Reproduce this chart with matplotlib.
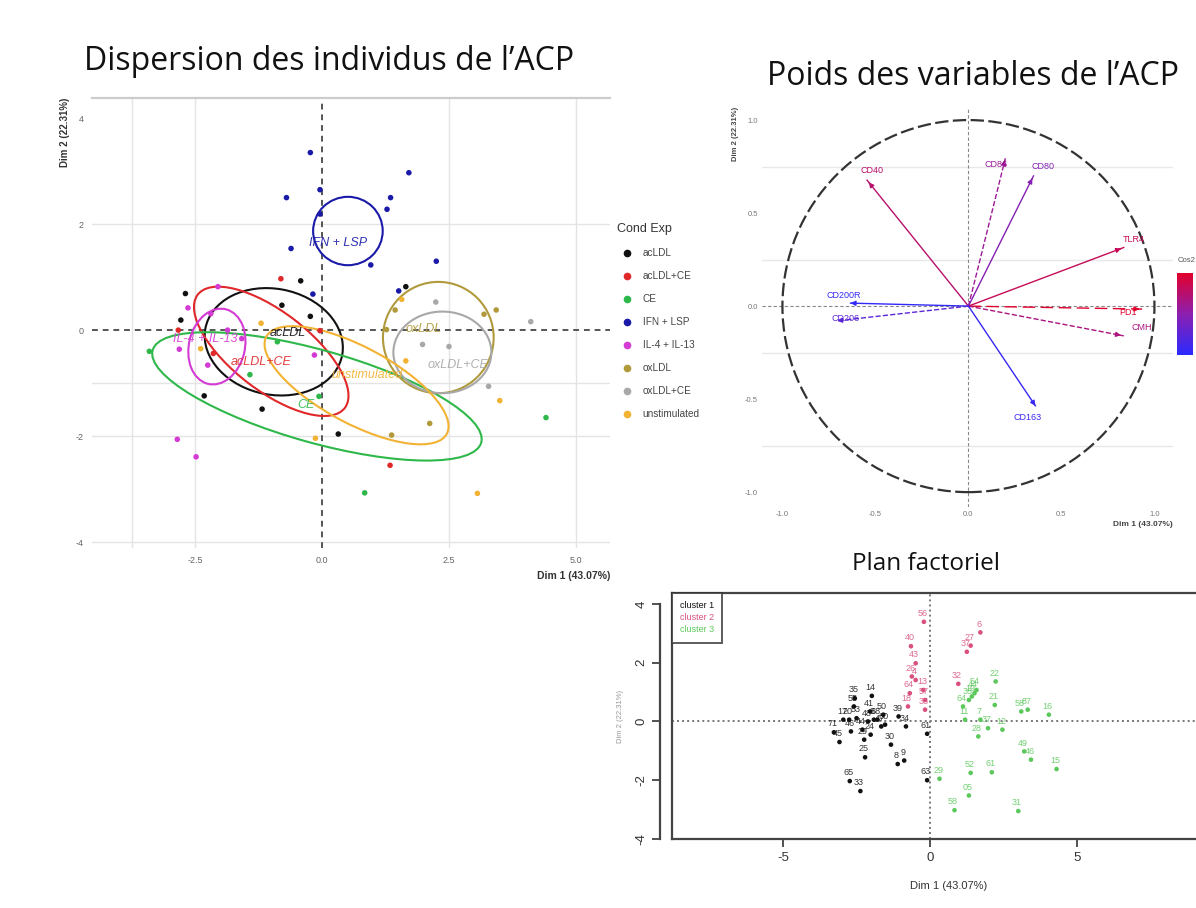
import numpy as np
import matplotlib
matplotlib.use("Agg")
import matplotlib.pyplot as plt
from matplotlib.patches import Ellipse, Circle
from matplotlib.colors import LinearSegmentedColormap, Normalize
from matplotlib.cm import ScalarMappable
from matplotlib.lines import Line2D

plt.rcParams['font.family'] = ['Liberation Sans', 'DejaVu Sans']
plt.rcParams['axes.unicode_minus'] = False

# ---------------------------------------------
# Données : individus de l'ACP par condition
# ---------------------------------------------
conditions = ["acLDL", "acLDL+CE", "CE", "IFN + LSP", "IL-4 + IL-13",
              "oxLDL", "oxLDL+CE", "unstimulated"]
cond_colors = ["#111111", "#e0282a", "#2fb84a", "#1a1aa8", "#d43ad4",
               "#b09a3c", "#a8a8a8", "#f2b233"]

ind_x = {
    "acLDL": [-2.69, -2.78, -0.42, -0.23, 1.65, -2.32, -1.18, 0.32, -0.79],
    "acLDL+CE": [-0.81, -2.83, -2.14, -0.04, 1.34],
    "CE": [-3.40, -1.42, -0.06, -0.88, 4.41, 0.84],
    "IFN + LSP": [-0.23, -0.04, -0.70, 1.71, 1.35, 1.28, -0.04, -0.61, 0.96, 2.25, 1.51, -0.18],
    "IL-4 + IL-13": [-2.05, -2.64, -2.19, -1.86, -1.58, -2.81, -2.25, -0.15, -2.85, -2.48],
    "oxLDL": [3.43, 3.19, 1.44, 2.12, 1.37, 1.27],
    "oxLDL+CE": [2.24, 4.11, 1.98, 2.50, 3.28],
    "unstimulated": [-1.20, 1.57, 1.65, 3.50, -0.13, 3.06, -2.39],
}
ind_y = {
    "acLDL": [0.69, 0.19, 0.93, 0.26, 0.82, -1.24, -1.49, -1.96, 0.47],
    "acLDL+CE": [0.97, 0.00, -0.44, -0.01, -2.55],
    "CE": [-0.40, -0.84, -1.25, -0.22, -1.65, -3.07],
    "IFN + LSP": [3.35, 2.65, 2.50, 2.97, 2.50, 2.28, 2.19, 1.54, 1.23, 1.30, 0.74, 0.68],
    "IL-4 + IL-13": [0.82, 0.42, 0.31, 0.00, -0.16, -0.36, -0.66, -0.47, -2.06, -2.39],
    "oxLDL": [0.38, 0.30, 0.38, -1.76, -1.98, 0.01],
    "oxLDL+CE": [0.53, 0.16, -0.27, -0.31, -1.06],
    "unstimulated": [0.13, 0.58, -0.58, -1.33, -2.04, -3.08, -0.35],
}

# ellipses de confiance : centre, largeur, hauteur, angle
ell_center = {
    "acLDL": (-0.95, -0.22), "acLDL+CE": (-1.00, -0.40), "CE": (-0.10, -1.25),
    "IFN + LSP": (0.51, 1.87), "IL-4 + IL-13": (-2.07, -0.31),
    "oxLDL": (2.29, -0.14), "oxLDL+CE": (2.37, -0.42), "unstimulated": (0.68, -1.04),
}
ell_width = {"acLDL": 2.74, "acLDL+CE": 3.6, "CE": 6.7, "IFN + LSP": 1.37,
             "IL-4 + IL-13": 1.45, "oxLDL": 2.18, "oxLDL+CE": 1.93, "unstimulated": 4.0}
ell_height = {"acLDL": 2.0, "acLDL+CE": 1.5, "CE": 1.75, "IFN + LSP": 1.29,
              "IL-4 + IL-13": 1.1, "oxLDL": 2.1, "oxLDL+CE": 1.54, "unstimulated": 1.45}
ell_angle = {"acLDL": -10, "acLDL+CE": -36, "CE": -15, "IFN + LSP": 0,
             "IL-4 + IL-13": 75, "oxLDL": 0, "oxLDL+CE": 0, "unstimulated": -27}
# position des étiquettes de groupe
lab_pos = {
    "acLDL": (-0.68, -0.05), "acLDL+CE": (-1.2, -0.6), "CE": (-0.32, -1.42),
    "IFN + LSP": (0.32, 1.64), "IL-4 + IL-13": (-2.29, -0.16),
    "oxLDL": (2.0, 0.03), "oxLDL+CE": (2.67, -0.66), "unstimulated": (0.88, -0.85),
}

# ---------------------------------------------
# Données : cercle des corrélations
# ---------------------------------------------
var_names = ["CD40", "CD86", "CD80", "TLR4", "PD1", "CMH", "CD200R", "CD206", "CD163"]
var_x = [-0.545, 0.20, 0.35, 0.835, 0.934, 0.835, -0.634, -0.706, 0.36]
var_y = [0.677, 0.80, 0.70, 0.315, -0.016, -0.16, 0.016, -0.079, -0.536]
var_ls = ["-", "--", "-", "-", (0, (9, 4)), "--", "-", "--", "-"]
var_lab_x = [-0.52, 0.15, 0.40, 0.89, 0.86, 0.93, -0.67, -0.66, 0.32]
var_lab_y = [0.73, 0.76, 0.75, 0.36, -0.034, -0.115, 0.056, -0.066, -0.60]

# ---------------------------------------------
# Données : plan factoriel par cluster
# ---------------------------------------------
c1_x = [-3.27, -3.08, -2.69, -2.59, -2.56, -2.75, -2.30, -2.24, -2.21, -1.98, -2.04, -2.11,
        -1.91, -1.79, -1.66, -2.02, -1.33, -1.07, -0.82, -1.10, -0.88, -0.10, -0.10, -2.73,
        -2.37, -1.53, -1.59, -2.50, -2.95]
c1_y = [-0.37, -0.70, -0.34, 0.51, 0.79, 0.06, -0.28, -0.62, -1.22, 0.87, 0.34, 0.00,
        0.06, 0.06, -0.17, -0.45, -0.79, 0.17, -0.17, -1.45, -1.33, -0.42, -2.00, -2.03,
        -2.37, -0.11, 0.23, 0.11, 0.06]
c1_lab = ["71", "45", "46", "55", "35", "20", "44", "29", "25", "14", "41", "48", "3", "68",
          "47", "24", "30", "39", "34", "8", "9", "61", "63", "65", "33", "60", "50", "53", "17"]

c2_x = [-0.21, -0.65, 1.71, 1.38, 1.25, -0.49, 0.96, -0.62, -0.49, -0.69, -0.75, -0.23,
        -0.17, -0.17]
c2_y = [3.39, 2.56, 3.03, 2.58, 2.37, 1.98, 1.28, 1.53, 1.41, 0.96, 0.51, 1.07, 0.73, 0.40]
c2_lab = ["56", "40", "6", "27", "37", "43", "32", "26", "4", "64", "18", "13", "57", "36"]

c3_x = [0.32, 0.83, 1.32, 1.38, 2.10, 3.00, 3.43, 3.20, 4.30, 4.04, 3.10, 3.32, 2.23, 2.20,
        1.97, 2.46, 1.64, 1.19, 1.12, 1.32, 1.51, 1.58, 1.42, 1.71]
c3_y = [-1.95, -3.02, -2.52, -1.75, -1.73, -3.05, -1.30, -1.02, -1.62, 0.23, 0.34, 0.40,
        1.36, 0.56, -0.23, -0.28, -0.51, 0.06, 0.51, 0.73, 0.96, 1.07, 0.85, 0.06]
c3_lab = ["29", "58", "05", "52", "61", "31", "46", "49", "15", "16", "58", "87", "22", "21",
          "37", "12", "28", "11", "64", "38", "44", "54", "19", "7"]

cluster_names = ["cluster 1", "cluster 2", "cluster 3"]
cluster_colors = ["#111111", "#d9507e", "#5cc85c"]

# ---------------------------------------------
# Figure
# ---------------------------------------------
fig = plt.figure(figsize=(11.96, 9.08), dpi=100)

title_font = dict(family=["Open Sans", "DejaVu Sans"], fontsize=23, color="#111111")
fig.text(0.0705, 0.923, "Dispersion des individus de l\u2019ACP", **title_font)
fig.text(0.641, 0.906, "Poids des variables de l\u2019ACP", **title_font)
fig.text(0.7743, 0.379, "Plan factoriel", ha="center", va="center",
         family=["Open Sans", "DejaVu Sans"], fontsize=17.5, color="#111111")

# ---- 1. individus ----
ax1 = fig.add_axes([0.0769, 0.3965, 0.4331, 0.4956])
ax1.set_xlim(-4.53, 5.67)
ax1.set_ylim(-4.11, 4.38)
for s in ["left", "right", "bottom"]:
    ax1.spines[s].set_visible(False)
ax1.spines["top"].set_color("#cccccc")
ax1.spines["top"].set_linewidth(1.6)
for yv in [2, -1, -2, -4]:
    ax1.axhline(yv, color="#e4e4e4", lw=1, zorder=0)
for xv in [-3.75, -2.5, 2.5, 5.0]:
    ax1.axvline(xv, color="#e4e4e4", lw=1, zorder=0)
ax1.axhline(0, color="#555555", lw=1.4, ls=(0, (3, 2.5)), zorder=1)
ax1.axvline(0, color="#555555", lw=1.4, ls=(0, (3, 2.5)), zorder=1)

for cond, col in zip(conditions, cond_colors):
    ax1.scatter(ind_x[cond], ind_y[cond], s=16, color=col, zorder=3, label=cond,
                edgecolors="none")
    ax1.add_patch(Ellipse(ell_center[cond], ell_width[cond], ell_height[cond],
                          angle=ell_angle[cond], fill=False, ec=col, lw=1.5, zorder=2))
    ax1.text(*lab_pos[cond], cond, color=col, fontsize=9, style="italic",
             ha="center", va="center", zorder=4, alpha=0.9)

ax1.set_xticks([-2.5, 0.0, 2.5, 5.0])
ax1.set_xticklabels(["-2.5", "0.0", "2.5", "5.0"])
ax1.set_yticks([-4, -2, 0, 2, 4])
ax1.tick_params(length=0, labelsize=6.5, labelcolor="#666666", pad=6)
ax1.set_xlabel("Dim 1 (43.07%)", loc="right", fontsize=7.5, fontweight="bold",
               color="#333333", labelpad=4)
ax1.set_ylabel("Dim 2 (22.31%)", loc="top", fontsize=7, fontweight="bold",
               color="#333333", labelpad=4)

handles = [Line2D([], [], marker="o", ls="none", color=c, markersize=4.5) for c in cond_colors]
leg = fig.legend(handles, conditions, title="Cond Exp", loc="upper left",
                 bbox_to_anchor=(0.508, 0.764), frameon=False, fontsize=7.2,
                 title_fontsize=9, handletextpad=0.6, labelspacing=1.3,
                 alignment="left")
for t in leg.get_texts():
    t.set_color("#444444")
leg.get_title().set_color("#333333")

# ---- 2. cercle des corrélations ----
cos2 = np.array(var_x) ** 2 + np.array(var_y) ** 2
cmap = LinearSegmentedColormap.from_list("cos2", ["#2a2aff", "#8c1fb0", "#e3002c"])
norm = Normalize(vmin=0.38, vmax=0.88)

ax2 = fig.add_axes([0.6371, 0.4416, 0.3437, 0.4405])
ax2.set_xlim(-1.11, 1.10)
ax2.set_ylim(-1.08, 1.07)
for s in ax2.spines.values():
    s.set_visible(False)
for yv in [0.75, 0.25, -0.25, -0.75]:
    ax2.axhline(yv, color="#e8e8e8", lw=1, zorder=0)
ax2.axhline(0, color="#888888", lw=0.8, ls=(0, (3, 2)), zorder=1)
ax2.axvline(0, color="#888888", lw=0.8, ls=(0, (3, 2)), zorder=1)
ax2.add_patch(Circle((0, 0), 1.0, fill=False, ec="#333333", lw=1.6,
                     ls=(0, (6, 2)), zorder=2))

for name, vx, vy, ls, lx, ly, c2v in zip(var_names, var_x, var_y, var_ls,
                                          var_lab_x, var_lab_y, cos2):
    col = cmap(norm(c2v))
    ax2.plot([0, vx], [0, vy], color=col, lw=1.0, ls=ls, zorder=3)
    ax2.annotate("", xy=(vx, vy), xytext=(vx * 0.96, vy * 0.96),
                 arrowprops=dict(arrowstyle="-|>", color=col, lw=1.0,
                                 mutation_scale=7), zorder=3)
    ax2.text(lx, ly, name, color=col, fontsize=6.5, ha="center", va="center", zorder=4)

ax2.set_xticks([-1.0, -0.5, 0.0, 0.5, 1.0])
ax2.set_yticks([-1.0, -0.5, 0.0, 0.5, 1.0])
ax2.tick_params(length=0, labelsize=5.5, labelcolor="#777777", pad=3)
ax2.set_xlabel("Dim 1 (43.07%)", loc="right", fontsize=6, fontweight="bold",
               color="#444444", labelpad=2)
ax2.set_ylabel("Dim 2 (22.31%)", loc="top", fontsize=5.5, fontweight="bold",
               color="#444444", labelpad=4)

cax = fig.add_axes([0.9841, 0.609, 0.0134, 0.0903])
cb = fig.colorbar(ScalarMappable(norm=norm, cmap=cmap), cax=cax)
cb.outline.set_visible(False)
cb.set_ticks([0.5, 0.6, 0.7, 0.8])
cax.tick_params(length=3, color="white", labelright=False)
fig.text(0.9845, 0.712, "Cos2", fontsize=5.5, color="#555555", ha="left")

# ---- 3. plan factoriel ----
ax3 = fig.add_axes([0.5615, 0.076, 0.4628, 0.2709])
ax3.set_xlim(-8.79, 10.03)
ax3.set_ylim(-3.97, 4.37)
ax3.spines["right"].set_visible(False)
for s in ["top", "bottom"]:
    ax3.spines[s].set_color("#444444")
    ax3.spines[s].set_linewidth(1.6)
ax3.spines["left"].set_position(("outward", 8))
ax3.spines["left"].set_bounds(-4, 4)
ax3.spines["left"].set_color("#444444")
ax3.spines["left"].set_linewidth(1.6)
ax3.plot([0, 0], [0, 1], transform=ax3.transAxes, color="#444444", lw=1.6, clip_on=False)
ax3.axhline(0, color="#777777", lw=1.4, ls=(0, (1, 1.6)), zorder=1)
ax3.axvline(0, color="#777777", lw=1.4, ls=(0, (1, 1.6)), zorder=1)

for cx, cy, clab, col in zip([c1_x, c2_x, c3_x], [c1_y, c2_y, c3_y],
                             [c1_lab, c2_lab, c3_lab], cluster_colors):
    ax3.scatter(cx, cy, s=11, color=col, zorder=3, edgecolors="none")
    for px, py, t in zip(cx, cy, clab):
        ax3.annotate(t, (px, py), xytext=(-1, 6), textcoords="offset points",
                     fontsize=6.5, color=col, ha="center", va="center", alpha=0.85)

ax3.set_xticks([-5, 0, 5])
ax3.set_yticks([-4, -2, 0, 2, 4])
ax3.tick_params(axis="both", length=6, width=1.3, color="#444444",
                labelsize=9.5, labelcolor="#333333")
for lab in ax3.get_yticklabels():
    lab.set_rotation(90)
    lab.set_va("center")
ax3.set_xlabel("Dim 1 (43.07%)", fontsize=8, color="#333333", labelpad=12)
ax3.set_ylabel("Dim 2 (22.31%)", fontsize=5.5, color="#999999", labelpad=8)

leg3 = ax3.legend([Line2D([], [], ls="none")] * 3, cluster_names, loc="upper left",
                  bbox_to_anchor=(0.0, 1.0), borderaxespad=0, fontsize=6.5,
                  handlelength=0, handletextpad=0, frameon=True, fancybox=False,
                  edgecolor="#333333", borderpad=0.9, labelspacing=0.35)
leg3.get_frame().set_linewidth(1.4)
for t, c in zip(leg3.get_texts(), cluster_colors):
    t.set_color(c)

fig.savefig("out.png", dpi=100)
plt.close(fig)
